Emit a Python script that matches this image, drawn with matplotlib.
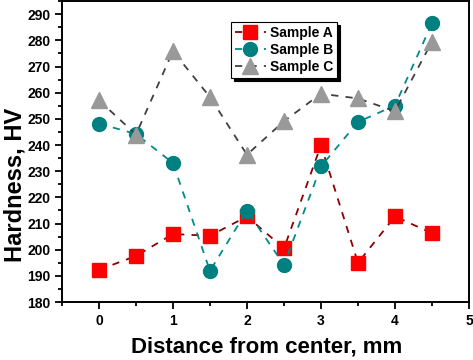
import matplotlib
matplotlib.use('Agg')
import matplotlib.pyplot as plt
from matplotlib.ticker import MultipleLocator

plt.rcParams['font.family'] = ['Liberation Sans', 'DejaVu Sans']
plt.rcParams['font.weight'] = 'bold'

# distance from center (mm)
distance = [0, 0.5, 1, 1.5, 2, 2.5, 3, 3.5, 4, 4.5]

# hardness (HV)
sample_a = [192.3, 197.6, 206.0, 205.3, 212.7, 200.5, 239.9, 195.0, 212.7, 206.3]
sample_b = [248.2, 244.2, 233.1, 191.9, 214.9, 194.2, 231.8, 248.8, 255.1, 286.5]
sample_c = [257.1, 244.0, 275.9, 258.3, 236.3, 249.1, 259.6, 257.8, 252.9, 279.5]

fig = plt.figure(figsize=(4.73, 3.6), dpi=100)
ax = fig.add_axes([0.131, 0.161, 0.8605, 0.836])

ax.plot(distance, sample_a, linestyle=(0, (4, 4)), color='#8b0000', lw=1.3,
        marker='s', ms=10, mfc='#ff0000', mec='#ff0000', label='Sample A')
ax.plot(distance, sample_b, linestyle=(0, (4, 4)), color='#008b8b', lw=1.3,
        marker='o', ms=10, mfc='#008080', mec='#008080', label='Sample B')
ax.plot(distance, sample_c, linestyle=(0, (4, 4)), color='#404040', lw=1.3,
        marker='^', ms=11, mfc='#999999', mec='#999999', label='Sample C')

ax.set_xlim(-0.5, 5)
ax.set_ylim(180, 295)
ax.xaxis.set_major_locator(MultipleLocator(1))
ax.xaxis.set_minor_locator(MultipleLocator(0.5))
ax.yaxis.set_major_locator(MultipleLocator(10))
ax.yaxis.set_minor_locator(MultipleLocator(5))
ax.set_yticks(range(180, 291, 10))
ax.tick_params(which='major', direction='out', length=5, width=1.3, labelsize=10)
ax.tick_params(which='minor', direction='out', length=3, width=1.3)
ax.tick_params(top=False, right=False)
for sp in ax.spines.values():
    sp.set_linewidth(1.4)

ax.set_xlabel('Distance from center, mm', fontsize=16, fontweight='bold')
ax.set_ylabel('Hardness, HV', fontsize=17, fontweight='bold')
ax.xaxis.set_label_coords(0.502, -0.113)
ax.yaxis.set_label_coords(-0.086, 0.39)

leg = ax.legend(loc='upper left', bbox_to_anchor=(0.415, 0.93), fontsize=10,
                frameon=True, fancybox=False, shadow={'color': 'black', 'alpha': 1},
                handlelength=2.2, borderpad=0.3, labelspacing=0.2, handletextpad=0.3,
                borderaxespad=0)
leg.get_frame().set_edgecolor('black')
leg.get_frame().set_linewidth(0.8)

fig.savefig('out.png', dpi=100)
